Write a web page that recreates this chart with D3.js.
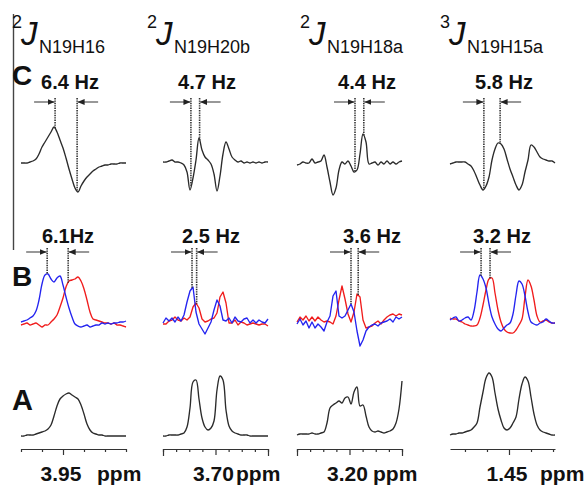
<!DOCTYPE html>
<html>
<head>
<meta charset="utf-8">
<script src="https://cdn.jsdelivr.net/npm/d3@7"></script>
<style>
  html, body { margin: 0; padding: 0; background: #fff; }
  svg { display: block; }
  text { font-family: "Liberation Sans", Arial, sans-serif; fill: #111; }
</style>
</head>
<body>
<svg id="fig" width="584" height="486"></svg>
<script>
// ---- coupled nuclei (one column each) ----
const couplingOrder = ['2', '2', '2', '3'];
const couplingPair  = ['N19H16', 'N19H20b', 'N19H18a', 'N19H15a'];

// spectral window of each column (Hz) and the measured couplings
const windowHz = [30.5, 56.8, 52.5, 37.5];
const jRowC    = [6.4, 4.7, 4.4, 5.8];
const jRowB    = [6.1, 2.5, 3.6, 3.2];
const peakRowC = [9.9, 15.1, 29.0, 12.1];   // first marked line, Hz from window start
const peakRowB = [7.6, 15.7, 27.0, 11.1];

// chemical-shift axes under row A
const ppmCentre = [3.95, 3.70, 3.20, 1.45];
const ppmDomain = [[3.97, 3.92], [3.72, 3.68], [3.22, 3.18], [1.4768, 1.4291]];
const ppmTicks  = [
  [3.97, 3.96, 3.95, 3.94, 3.93, 3.92],
  [3.72, 3.715, 3.71, 3.705, 3.70, 3.695, 3.69, 3.685, 3.68],
  [3.22, 3.215, 3.21, 3.205, 3.20, 3.195, 3.19, 3.185, 3.18],
  [1.47, 1.46, 1.45, 1.44, 1.43]
];

// ---- spectra: intensities on a uniform 36-point grid across each window ----
// row C: J-resolved difference traces
const rowC1 = [1,1,1,2,3,5,10,17,22,27,32,37,32,24,16,6,-5,-15,-24,-28,-22,-17,-13,-10,-7,-5,-3,-2,-1,-1,0,0,0,1,1,1];
const rowC2 = [2,2,3,4,2,2,1,-1,-8,-26,-14,4,26,14,7,4,0,-10,-27,-12,10,22,15,7,4,2,3,1,2,1,2,1,2,1,2,2];
const rowC3 = [-1,0,2,1,1,5,1,2,3,9,-3,-18,-31,-24,-6,2,0,3,-2,-8,-6,10,30,22,0,1,2,-1,2,0,3,0,2,0,2,3];
const rowC4 = [0,1,2,2,2,2,0,-2,-7,-14,-21,-26,-22,-13,4,15,21,20,15,5,-5,-13,-21,-26,-21,-8,4,19,17,12,7,5,4,3,3,1];

// row B: spin-state selective pair (blue / red)
const rowB1Blue = [0,1,2,4,6,11,22,38,47,48,43,40,44,46,37,25,14,5,-2,-4,-5,-4,-3,-5,-4,-3,-3,-1,-2,-1,-2,-1,-1,0,0,1];
const rowB1Red  = [-3,-2,-1,-3,-2,-1,-3,-5,-3,-3,0,3,7,15,24,35,41,42,43,45,41,33,22,10,3,2,1,0,-1,-1,-2,-1,-3,-3,-4,-5];
const rowB2Blue = [-1,4,1,4,0,5,1,7,20,31,35,10,-2,-7,-12,-6,0,12,22,16,2,1,4,-1,5,1,0,3,4,-1,2,-1,2,0,-1,3];
const rowB2Red  = [-2,-2,1,2,5,2,1,4,2,5,15,19,14,3,0,1,3,4,9,25,30,19,-1,-1,2,-3,0,-1,-3,-2,-1,-2,-3,-2,-2,-4];
const rowB3Blue = [-2,3,-3,1,-6,0,-6,-2,-5,-9,0,6,26,31,6,4,6,12,18,10,-9,-24,-18,-9,-5,-3,-2,-4,-1,0,1,3,0,5,3,5];
const rowB3Red  = [0,5,2,6,1,5,1,5,2,0,1,0,-2,6,22,36,23,8,0,10,28,25,2,-6,-5,-4,-1,1,-2,2,5,7,8,6,8,7];
const rowB4Blue = [2,4,5,1,2,4,5,2,11,30,47,43,34,18,5,-2,-7,-9,-6,-3,-1,8,27,41,38,26,10,0,-2,-3,-1,0,3,1,-1,-1];
const rowB4Red  = [4,3,3,1,0,-2,-3,-4,-4,-3,4,17,32,43,44,29,12,0,-7,-10,-11,-11,-8,-3,3,25,42,36,22,6,0,1,2,0,-1,-1];

// row A: 1H reference spectra
const rowA1 = [0,0,1,1,1,2,3,4,5,7,11,20,30,37,40,42,43,41,39,37,31,22,12,6,3,2,1,1,0,0,0,0,0,0,0,0];
const rowA2 = [0,0,1,1,1,1,2,3,9,28,54,56,37,18,9,6,8,15,46,60,56,26,10,5,3,2,1,1,1,0,0,0,0,0,0,0];
const rowA3 = [1,2,2,2,2,3,2,2,3,4,13,28,31,33,35,33,38,39,32,44,49,30,31,20,9,5,4,5,4,3,4,5,7,13,27,55];
const rowA4 = [1,2,2,3,3,4,5,6,9,13,29,44,58,63,59,43,27,16,8,6,8,13,19,37,52,59,55,39,22,11,6,4,3,2,1,1];

const rowC = [rowC1, rowC2, rowC3, rowC4];
const rowB = [[rowB1Blue, rowB1Red], [rowB2Blue, rowB2Red], [rowB3Blue, rowB3Red], [rowB4Blue, rowB4Red]];
const rowA = [rowA1, rowA2, rowA3, rowA4];
const noisyB = [false, true, true, false];

// ---- layout ----
const colLeft = [21, 163, 297, 450];
const colWidth = 105;
const baseC = 164, baseB = 322, baseA = 436, axisY = 449;
const arrowYC = 102, arrowYB = 252;
const hzLabelC = [70, 207, 367, 504];
const hzLabelB = [68, 211, 372, 502];
const ppmWordX = [97, 236, 373, 540];

const ink = '#2b2b2b', blue = '#2424f0', red = '#f01c1c';
const svg = d3.select('#fig');

const defs = svg.append('defs');
defs.append('marker')
  .attr('id', 'head').attr('viewBox', '0 0 7 6')
  .attr('refX', 7).attr('refY', 3)
  .attr('markerWidth', 7).attr('markerHeight', 6)
  .attr('markerUnits', 'userSpaceOnUse').attr('orient', 'auto')
  .append('path').attr('d', 'M0,0 L7,3 L0,6 Z').attr('fill', '#222');

// row scales: intensity -> pixel
const yC = d3.scaleLinear().domain([-40, 40]).range([baseC + 40, baseC - 40]);
const yB = d3.scaleLinear().domain([-40, 60]).range([baseB + 40, baseB - 60]);
const yA = d3.scaleLinear().domain([0, 70]).range([baseA, baseA - 70]);

function sampleHz(i, n, w) { return i * w / (n - 1); }
function valueAt(vals, w, hz) {
  const t = hz / w * (vals.length - 1);
  const i = Math.max(0, Math.min(vals.length - 2, Math.floor(t)));
  return d3.interpolateNumber(vals[i], vals[i + 1])(t - i);
}

function trace(g, vals, x, y, w, colour, jagged) {
  const line = d3.line()
    .x((d, i) => x(sampleHz(i, vals.length, w)))
    .y(d => y(d))
    .curve(jagged ? d3.curveLinear : d3.curveCatmullRom.alpha(0.5));
  g.append('path').attr('d', line(vals))
    .attr('fill', 'none').attr('stroke', colour)
    .attr('stroke-width', 1.35).attr('stroke-linejoin', 'round');
}

function jMarkers(g, x, y, w, left, j, aY, leftVals, rightVals) {
  const xl = x(left), xr = x(left + j);
  const yl = y(valueAt(leftVals, w, left));
  const yr = y(valueAt(rightVals, w, left + j));
  [[xl, yl], [xr, yr]].forEach(([xx, yy]) => {
    g.append('line').attr('x1', xx).attr('x2', xx).attr('y1', aY - 4).attr('y2', yy)
      .attr('stroke', '#333').attr('stroke-width', 1.6).attr('stroke-dasharray', '1.4,1');
  });
  g.append('line').attr('x1', xl - 21).attr('x2', xl - 0.5).attr('y1', aY).attr('y2', aY)
    .attr('stroke', '#444').attr('stroke-width', 1.1).attr('marker-end', 'url(#head)');
  g.append('line').attr('x1', xr + 21).attr('x2', xr + 0.5).attr('y1', aY).attr('y2', aY)
    .attr('stroke', '#444').attr('stroke-width', 1.1).attr('marker-end', 'url(#head)');
}

// frame line at the left
svg.append('line').attr('x1', 13.5).attr('x2', 13.5).attr('y1', 14).attr('y2', 250)
  .attr('stroke', '#444').attr('stroke-width', 1.4);

// row letters
[['C', 85, 28], ['B', 286, 28], ['A', 410, 29]].forEach(([t, yy, fs]) => {
  svg.append('text').attr('x', 12).attr('y', yy).attr('font-size', fs)
    .attr('font-weight', 'bold').text(t);
});

const hzFmt = d3.format('.1f');
const titleSup = [12, 147, 300, 440];

couplingPair.forEach((pair, c) => {
  const w = windowHz[c];
  const x = d3.scaleLinear().domain([0, w]).range([colLeft[c], colLeft[c] + colWidth]);
  const g = svg.append('g');

  // title  nJ(pair)
  const sx = titleSup[c];
  g.append('text').attr('x', sx).attr('y', 28).attr('font-size', 18).text(couplingOrder[c]);
  g.append('text').attr('x', sx + 9).attr('y', 45).attr('font-size', 33)
    .attr('font-style', 'italic').text('J');
  g.append('text').attr('x', sx + 27).attr('y', 53).attr('font-size', 18).text(pair);

  // row C
  g.append('text').attr('x', hzLabelC[c]).attr('y', 89).attr('text-anchor', 'middle')
    .attr('font-size', 20).attr('font-weight', 'bold').text(hzFmt(jRowC[c]) + ' Hz');
  trace(g, rowC[c], x, yC, w, ink, false);
  jMarkers(g, x, yC, w, peakRowC[c], jRowC[c], arrowYC, rowC[c], rowC[c]);

  // row B
  g.append('text').attr('x', hzLabelB[c]).attr('y', 243).attr('text-anchor', 'middle')
    .attr('font-size', 20).attr('font-weight', 'bold')
    .text(hzFmt(jRowB[c]) + (c === 0 ? 'Hz' : ' Hz'));
  trace(g, rowB[c][1], x, yB, w, red, noisyB[c]);
  trace(g, rowB[c][0], x, yB, w, blue, noisyB[c]);
  jMarkers(g, x, yB, w, peakRowB[c], jRowB[c], arrowYB, rowB[c][0], rowB[c][1]);

  // row A
  trace(g, rowA[c], x, yA, w, ink, false);

  const ppm = d3.scaleLinear().domain(ppmDomain[c]).range([colLeft[c], colLeft[c] + colWidth]);
  const axis = d3.axisBottom(ppm).tickValues(ppmTicks[c]).tickFormat('')
    .tickSize(3).tickSizeOuter(c === 1 || c === 2 ? 7 : 0);
  const ax = g.append('g').attr('transform', `translate(0,${axisY})`).call(axis);
  ax.selectAll('path,line').attr('stroke', '#333').attr('stroke-width', 1.2);
  ax.selectAll('.tick').filter(d => Math.abs(d - ppmCentre[c]) < 1e-6)
    .select('line').attr('y2', 6);

  g.append('text').attr('x', ppm(ppmCentre[c]) - 2).attr('y', 481).attr('text-anchor', 'middle')
    .attr('font-size', 21).attr('font-weight', 'bold').text(d3.format('.2f')(ppmCentre[c]));
  g.append('text').attr('x', ppmWordX[c]).attr('y', 481)
    .attr('font-size', 21).attr('font-weight', 'bold').text('ppm');
});
</script>
</body>
</html>
